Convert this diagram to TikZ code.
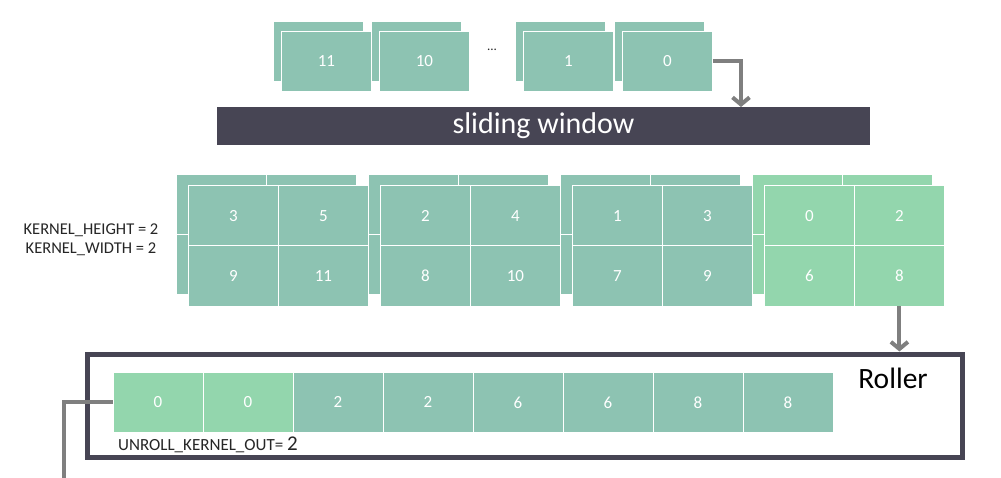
\documentclass[tikz,border=0pt]{standalone}
\usepackage{fontspec}
\setmainfont{Carlito}
\usetikzlibrary{arrows.meta,positioning}
\definecolor{teal1}{HTML}{8DC3B2}
\definecolor{green1}{HTML}{93D6AD}
\definecolor{darkbar}{HTML}{474554}
\definecolor{arrowgray}{HTML}{7F7F7F}
\definecolor{labelgray}{HTML}{262626}
\tikzset{
  cellbox/.style={draw=white, line width=0.8pt, fill=teal1, minimum width=90pt, minimum height=60pt,
    inner sep=0pt, anchor=north west, text=white, font=\fontsize{17}{19}\selectfont},
  greencell/.style={cellbox, fill=green1},
  flow/.style={draw=arrowgray, line width=4pt, -{Straight Barb[length=7pt,width=17pt,line width=4pt]}},
  flowline/.style={draw=arrowgray, line width=4pt},
  lbl/.style={text=labelgray, inner sep=0pt},
}
\begin{document}
\begin{tikzpicture}[x=1pt,y=-1pt]
\useasboundingbox[fill=white] (0,0) rectangle (1001,478);

% ---- top row
\foreach \x [count=\i] in {281, 379, 523, 622} {
  \node[cellbox] (tb\i) at (\x-8,21) {};
}
\node[cellbox] (t11) at (281,31) {11};
\node[cellbox] (t10) at (379,31) {10};
\node[cellbox] (t1) at (523,31) {1};
\node[cellbox] (t0) at (622,31) {0};
\node[lbl, font=\fontsize{13}{14}\selectfont] (dots) at (492,50) {...};

% sliding window
\node[fill=darkbar, minimum width=653pt, minimum height=38pt, inner sep=0pt, text=white,
  font=\fontsize{30}{32}\selectfont] (sw) at (543.5,126) {sliding window};

\coordinate (a1) at (741,107);
\draw[flow] (t0.east) -| (a1);

% ---- middle groups
\foreach \x [count=\g] in {188,380,572} {
  \node[cellbox] (b\g a) at (\x-12,174.5) {};
  \node[cellbox] (b\g b) at (\x+78,174.5) {};
  \node[cellbox] (b\g c) at (\x-12,234.5) {};
  \node[cellbox] (b\g d) at (\x+78,234.5) {};
}
\node[greencell] (b4a) at (752,174.5) {};
\node[greencell] (b4b) at (842,174.5) {};
\node[greencell] (b4c) at (752,234.5) {};
\node[greencell] (b4d) at (842,234.5) {};

\node[cellbox] (g1a) at (188,185.5) {3};
\node[cellbox] (g1b) at (278,185.5) {5};
\node[cellbox] (g1c) at (188,245.5) {9};
\node[cellbox] (g1d) at (278,245.5) {11};

\node[cellbox] (g2a) at (380,185.5) {2};
\node[cellbox] (g2b) at (470,185.5) {4};
\node[cellbox] (g2c) at (380,245.5) {8};
\node[cellbox] (g2d) at (470,245.5) {10};

\node[cellbox] (g3a) at (572,185.5) {1};
\node[cellbox] (g3b) at (662,185.5) {3};
\node[cellbox] (g3c) at (572,245.5) {7};
\node[cellbox] (g3d) at (662,245.5) {9};

\node[greencell] (g4a) at (764,185.5) {0};
\node[greencell] (g4b) at (854,185.5) {2};
\node[greencell] (g4c) at (764,245.5) {6};
\node[greencell] (g4d) at (854,245.5) {8};

\node[lbl, align=center, font=\fontsize{16.5}{18.5}\selectfont] (kern) at (91,240)
  {KERNEL\_HEIGHT = 2\\KERNEL\_WIDTH = 2};

% ---- roller
\node[draw=darkbar, line width=5pt, minimum width=875.5pt, minimum height=103.5pt, inner sep=0pt]
  (roller) at (524.75,405.75) {};
\node[lbl, text=black, font=\fontsize{29.5}{31}\selectfont] (rolltxt) at (893,378) {Roller};

\node[greencell] (r1) at (112.5,372) {0};
\node[greencell] (r2) at (202.5,372) {0};
\node[cellbox] (r3) at (292.5,372) {2};
\node[cellbox] (r4) at (382.5,372) {2};
\node[cellbox] (r5) at (472.5,372) {6};
\node[cellbox] (r6) at (562.5,372) {6};
\node[cellbox] (r7) at (652.5,372) {8};
\node[cellbox] (r8) at (742.5,372) {8};

\node[lbl, anchor=base west, font=\fontsize{17}{19}\selectfont] (unroll) at (118,450)
  {UNROLL\_KERNEL\_OUT= {\fontsize{21}{23}\selectfont 2}};

\draw[flow] (g4d.south) -- (g4d.south |- roller.north);

\coordinate (a2) at (64,478);
\draw[flowline] (r1.west) -| (a2);
\end{tikzpicture}
\end{document}
